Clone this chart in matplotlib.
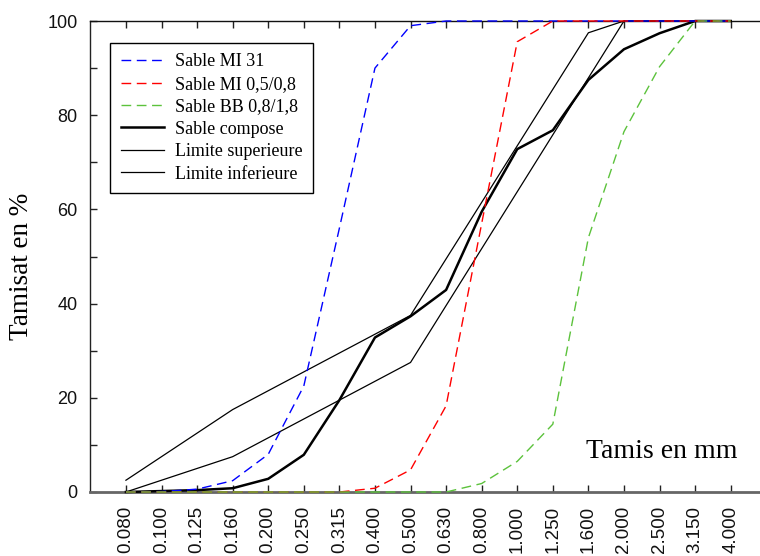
import matplotlib
matplotlib.use("Agg")
import matplotlib.pyplot as plt
import numpy as np

sieves = ["0.080", "0.100", "0.125", "0.160", "0.200", "0.250", "0.315", "0.400", "0.500",
          "0.630", "0.800", "1.000", "1.250", "1.600", "2.000", "2.500", "3.150", "4.000"]

sable_mi31 = [0, 0.1, 0.6, 2.4, 8, 22.5, 56, 90, 99, 100, 100, 100, 100, 100, 100, 100, 100, 100]
sable_mi_05_08 = [0, 0, 0, 0, 0, 0, 0, 0.8, 4.7, 18.3, 57, 95.6, 100, 100, 100, 100, 100, 100]
sable_bb_08_18 = [0, 0, 0, 0, 0, 0, 0, 0, 0, 0, 1.8, 6.5, 14.4, 54, 76.5, 90.3, 100, 100]
sable_compose = [0, 0.2, 0.4, 0.8, 2.8, 7.9, 19.5, 32.8, 37.3, 42.9, 59.5, 72.8, 76.8, 87.5, 94, 97.4, 100, 100]

sup_sieves = ["0.080", "0.160", "0.500", "1.600", "2.000", "4.000"]
sup_values = [2.5, 17.5, 37.5, 97.5, 100, 100]
inf_sieves = ["0.080", "0.160", "0.500", "2.000", "4.000"]
inf_values = [0, 7.5, 27.5, 100, 100]

serif = ["Liberation Serif", "DejaVu Serif"]
sans = ["Liberation Sans", "DejaVu Sans"]

fig = plt.figure(figsize=(7.6, 5.56), dpi=100)
ax = fig.add_axes([90 / 760, (556 - 492) / 556, 672 / 760, 471 / 556])

x = np.arange(len(sieves))
idx = {s: i for i, s in enumerate(sieves)}
xs_sup = [idx[s] for s in sup_sieves]
xs_inf = [idx[s] for s in inf_sieves]

dash = (0, (7, 4))
ax.plot(x, sable_mi31, color="#0000ff", lw=1, ls=dash, label="Sable MI 31", clip_on=False, zorder=5)
ax.plot(x, sable_mi_05_08, color="#ff0000", lw=1, ls=dash, label="Sable MI 0,5/0,8", clip_on=False, zorder=5)
ax.plot(x, sable_bb_08_18, color="#5cc23c", lw=1, ls=dash, label="Sable BB 0,8/1,8", clip_on=False, zorder=5)
ax.plot(x, sable_compose, color="black", lw=1.8, label="Sable compose", clip_on=False, zorder=4)
ax.plot(xs_sup, sup_values, color="black", lw=0.9, label="Limite superieure", clip_on=False, zorder=4)
ax.plot(xs_inf, inf_values, color="black", lw=0.9, label="Limite inferieure", clip_on=False, zorder=4)

ax.set_xlim(-1.01, 17.88)
ax.set_ylim(0, 100)

ax.set_xticks(x)
ax.set_xticklabels(sieves, rotation=90, family=sans, fontsize=13.5, color="#111111")
ax.set_yticks(np.arange(0, 101, 10))
ax.set_yticklabels([str(v) if v % 20 == 0 else "" for v in range(0, 101, 10)],
                   family=sans, fontsize=13, color="#111111")

ax.tick_params(axis="x", direction="in", length=5, width=1, top=True, bottom=True, pad=10, colors="#222222")
ax.tick_params(axis="x", labelcolor="#111111")
ax.tick_params(axis="y", direction="in", length=5, width=1, left=True, right=False, pad=9, colors="#222222")
ax.tick_params(axis="y", labelcolor="#111111")

ax.spines["right"].set_visible(False)
ax.spines["left"].set_color("#222222")
ax.spines["top"].set_color("#111111")
ax.spines["bottom"].set_color("#666666")
ax.spines["bottom"].set_linewidth(2)
ax.spines["left"].set_linewidth(1)
ax.spines["top"].set_linewidth(1)

ax.set_ylabel("Tamisat en %", family=serif, fontsize=19.5)
ax.yaxis.set_label_coords(-0.084, 0.48)
ax.text(0.738, 0.087, "Tamis en mm", transform=ax.transAxes, family=serif, fontsize=20,
        ha="left", va="center")

leg = ax.legend(loc="upper left", bbox_to_anchor=(0.0298, 0.954), borderaxespad=0,
                prop={"family": serif, "size": 13}, handlelength=2.4, handletextpad=0.6,
                borderpad=0.6, labelspacing=0.3, fancybox=False, framealpha=1,
                edgecolor="black")
leg.get_frame().set_linewidth(1)

fig.savefig("out.png", dpi=100)
